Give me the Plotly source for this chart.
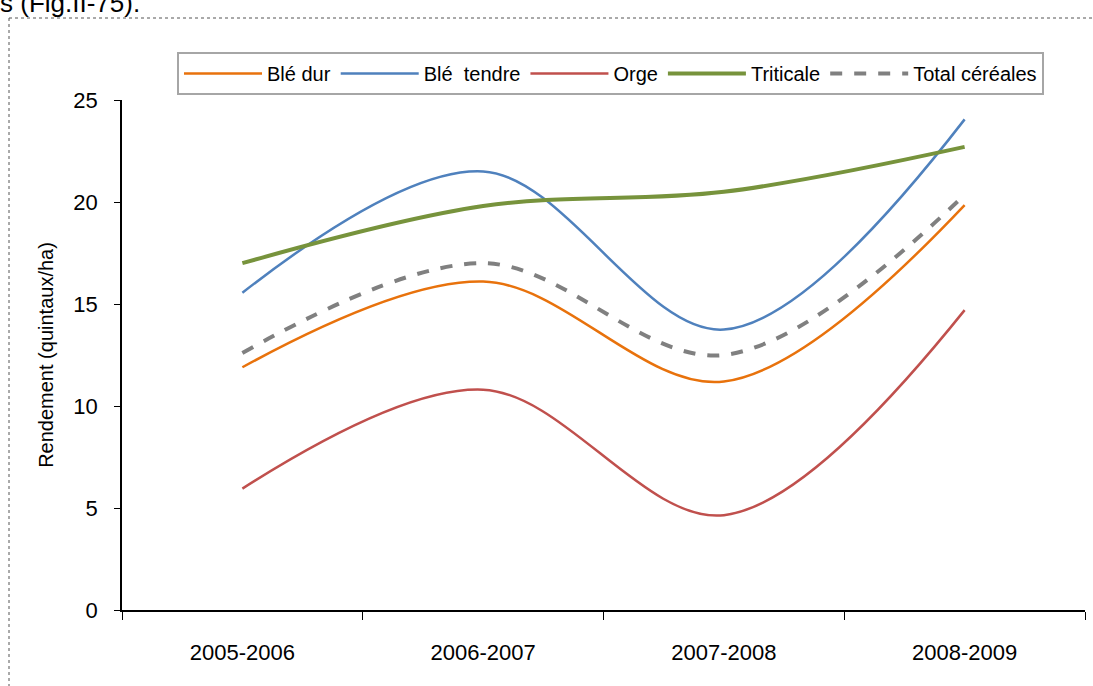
import plotly.graph_objects as go

# campagnes agricoles
campagnes = ["2005-2006", "2006-2007", "2007-2008", "2008-2009"]

# rendements (quintaux/ha)
ble_dur = [11.9, 16.1, 11.2, 19.85]
ble_tendre = [15.55, 21.5, 13.75, 24.05]
orge = [5.95, 10.8, 4.65, 14.7]
triticale = [17.0, 19.8, 20.5, 22.7]
total_cereales = [12.6, 17.0, 12.5, 20.35]

series = [
    ("Blé dur", ble_dur, "#E8720C", 2.5, "solid"),
    ("Blé  tendre", ble_tendre, "#4F81BD", 2.5, "solid"),
    ("Orge", orge, "#C0504D", 2.5, "solid"),
    ("Triticale", triticale, "#77933C", 4, "solid"),
    ("Total céréales", total_cereales, "#808080", 4, "dash"),
]

fig = go.Figure()
for name, vals, color, width, dash in series:
    fig.add_trace(go.Scatter(
        x=campagnes, y=vals, name=name, mode="lines",
        line=dict(color=color, width=width, dash=dash, shape="spline", smoothing=1.0),
    ))

font = "Liberation Sans, Arial, sans-serif"

# zone de tracé en pixels: x 122..1085, y 100..610
L, R, T, B = 122, 1085, 100, 610
W, H = 1093, 686
pw, ph = R - L, B - T

def px_x(x):
    return (x - L) / pw

def px_y(y):
    return (B - y) / ph

fig.update_layout(
    width=W, height=H,
    margin=dict(l=L, r=W - R, t=T, b=H - B),
    paper_bgcolor="white", plot_bgcolor="white",
    font=dict(family=font, color="black"),
    showlegend=True,
    legend=dict(
        orientation="h", x=px_x(177), y=px_y(52), xanchor="left", yanchor="top",
        bordercolor="#A6A6A6", borderwidth=2, bgcolor="white",
        font=dict(size=20, family=font), itemwidth=78,
        tracegroupgap=0,
    ),
    xaxis=dict(
        type="category", range=[-0.5, 3.5], showline=True, linecolor="black", linewidth=1.5,
        ticks="outside", tickson="boundaries", ticklen=8, tickcolor="black",
        tickfont=dict(size=22), showgrid=False, zeroline=False, ticklabelstandoff=22,
    ),
    yaxis=dict(
        range=[0, 25], dtick=5, showline=True, linecolor="black", linewidth=1.5,
        ticks="outside", ticklen=6, tickcolor="black", tickfont=dict(size=22),
        showgrid=False, zeroline=False, ticklabelstandoff=12,
        title=dict(text="Rendement (quintaux/ha)", font=dict(size=20), standoff=14),
    ),
)

# bordure pointillée du cadre du graphique
fig.add_shape(type="line", xref="paper", yref="paper",
              x0=px_x(9), x1=px_x(1100), y0=px_y(18), y1=px_y(18),
              line=dict(color="#555555", width=1, dash="dot"))
fig.add_shape(type="line", xref="paper", yref="paper",
              x0=px_x(9), x1=px_x(9), y0=px_y(18), y1=px_y(700),
              line=dict(color="#555555", width=1, dash="dot"))

# texte du document, coupé en haut
fig.add_annotation(text="s (Fig.II-75).", xref="paper", yref="paper",
                   x=px_x(-2), y=px_y(20), xanchor="left", yanchor="bottom",
                   showarrow=False, font=dict(size=26, family=font, color="black"))

# pas de marge de page autour de la figure
fig.write_html("out.html", config={"displayModeBar": False},
               post_script="document.body.style.margin='0';")
